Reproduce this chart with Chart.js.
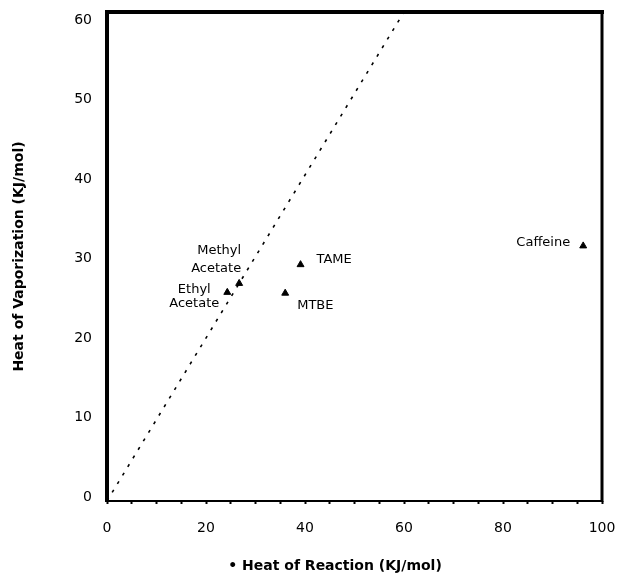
<!DOCTYPE html>
<html>
<head>
<meta charset="utf-8">
<script src="https://cdn.jsdelivr.net/npm/chart.js@4/dist/chart.umd.min.js"></script>
<style>
  html, body { margin: 0; padding: 0; background: #fff; }
  #wrap { width: 619px; height: 579px; }
</style>
</head>
<body>
<div id="wrap"><canvas id="myChart" width="619" height="579"></canvas></div>
<script>
// values
const compounds = [['TAME'], ['MTBE'], ['Methyl', 'Acetate'], ['Ethyl', 'Acetate'], ['Caffeine']];
const heatOfReaction = [39.1, 36.0, 26.7, 24.3, 96.2];
const heatOfVaporization = [29.0, 25.5, 26.7, 25.6, 31.3];
const refLineX = [0, 60];
const refLineY = [0, 60];
const xTickLabels = [0, 20, 40, 60, 80, 100];
const yTickLabels = [0, 10, 20, 30, 40, 50, 60];

const FONT = 'DejaVu Sans';

// where each compound name goes relative to its marker
const labelStyle = [
    { align: 'left', dx: 16, dy: -5, lh: 15 },
    { align: 'left', dx: 12, dy: 12, lh: 15 },
    { align: 'right', dx: 2, dy: -33, lh: 18 },
    { align: 'center', dx: -33, dy: -3, lh: 14 },
    { align: 'right', dx: -13, dy: -3, lh: 15 }
];

const pointLabels = {
    id: 'pointLabels',
    afterDatasetsDraw(chart) {
        const ctx = chart.ctx;
        const meta = chart.getDatasetMeta(1);
        ctx.save();
        ctx.fillStyle = '#000';
        ctx.font = '13px "' + FONT + '"';
        ctx.textBaseline = 'middle';
        meta.data.forEach((pt, i) => {
            const s = labelStyle[i];
            ctx.textAlign = s.align;
            compounds[i].forEach((line, j) => {
                ctx.fillText(line, pt.x + s.dx, pt.y + s.dy + j * s.lh);
            });
        });
        ctx.restore();
    }
};

const frame = {
    id: 'frame',
    afterDraw(chart) {
        const a = chart.chartArea;
        const ctx = chart.ctx;
        ctx.save();
        ctx.fillStyle = '#000';
        ctx.fillRect(a.left - 2, a.top - 2, 4, a.bottom - a.top + 3);   // left
        ctx.fillRect(a.left - 2, a.top - 2, a.right - a.left + 4, 4);   // top
        ctx.fillRect(a.right - 1.5, a.top - 2, 3, a.bottom - a.top + 3); // right
        ctx.fillRect(a.left - 2, a.bottom - 1, a.right - a.left + 3, 2); // bottom
        ctx.restore();
    }
};

const ctx = document.getElementById('myChart').getContext('2d');
const myChart = new Chart(ctx, {
    type: 'scatter',
    data: {
        datasets: [{
            type: 'line',
            data: refLineX.map((x, i) => ({ x: x, y: refLineY[i] })),
            borderColor: '#000',
            borderWidth: 1.6,
            borderDash: [3, 7],
            pointRadius: 0,
            fill: false
        }, {
            data: heatOfReaction.map((x, i) => ({ x: x, y: heatOfVaporization[i] })),
            pointStyle: 'triangle',
            pointRadius: 4,
            backgroundColor: '#000',
            borderColor: '#000',
            borderWidth: 1
        }]
    },
    options: {
        responsive: false,
        animation: false,
        layout: { padding: { top: 12, right: 17, left: 0, bottom: 0 } },
        plugins: {
            legend: { display: false },
            tooltip: { enabled: false }
        },
        scales: {
            x: {
                type: 'linear',
                min: 0,
                max: 100,
                afterBuildTicks: axis => {
                    const t = [];
                    for (let v = 0; v <= 100; v += 5) t.push({ value: v });
                    axis.ticks = t;
                },
                afterFit: axis => {
                    axis.height = 78;
                    axis.paddingLeft = 0;
                    axis.paddingRight = 0;
                },
                grid: {
                    drawOnChartArea: false,
                    drawTicks: true,
                    tickLength: 3,
                    tickWidth: 2,
                    color: '#000'
                },
                border: { display: false },
                ticks: {
                    padding: 16,
                    color: '#000',
                    maxRotation: 0,
                    autoSkip: false,
                    font: { family: FONT, size: 14 },
                    callback: v => xTickLabels.includes(v) ? String(v) : ''
                },
                title: {
                    display: true,
                    text: '\u2022 Heat of Reaction (KJ/mol)        ',
                    color: '#000',
                    font: { family: FONT, size: 14, weight: 'bold' },
                    padding: { top: 0, bottom: 4 }
                }
            },
            y: {
                type: 'linear',
                min: 0,
                max: 60,
                display: false
            },
            yl: {
                type: 'linear',
                position: 'left',
                min: -0.5,
                max: 61,
                afterBuildTicks: axis => {
                    axis.ticks = yTickLabels.map(v => ({ value: v }));
                },
                afterFit: axis => {
                    axis.width = 107;
                    axis.paddingTop = 0;
                    axis.paddingBottom = 0;
                },
                grid: { display: false, drawTicks: false },
                border: { display: false },
                ticks: {
                    padding: 15,
                    color: '#000',
                    autoSkip: false,
                    font: { family: FONT, size: 14 }
                },
                title: {
                    display: true,
                    text: 'Heat of Vaporization (KJ/mol)',
                    color: '#000',
                    font: { family: FONT, size: 14, weight: 'bold' },
                    padding: { top: 11, bottom: 0 }
                }
            }
        }
    },
    plugins: [pointLabels, frame]
});
</script>
</body>
</html>
